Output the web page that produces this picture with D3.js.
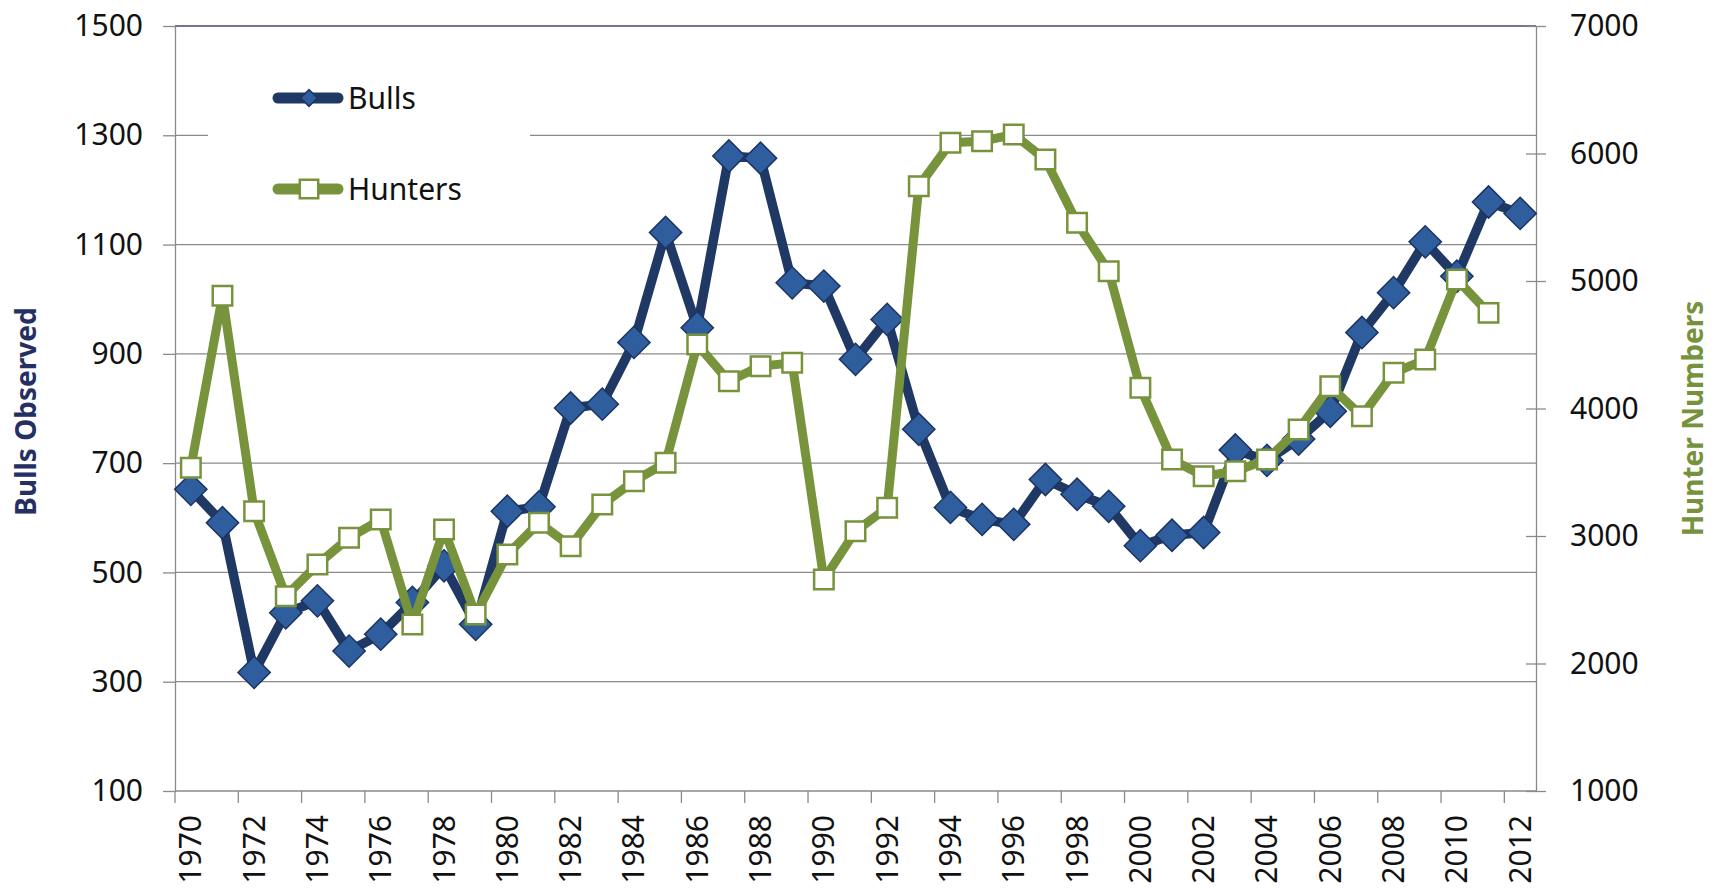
<!DOCTYPE html>
<html lang="en">
  <head>
    <meta charset="UTF-8" />
    <title>Bulls and Hunters</title>
    <style>

      body {
        margin: 0;
        background: #fff;
      }

      text {
        font-family: "Noto Sans", sans-serif;
      }

      .tick text {
        font-size: 30px;
        fill: #111;
      }

      .grid-line {
        stroke: #8a8a8a;
        stroke-width: 1.3px;
      }

      .bulls-line {
        fill: none;
        stroke: #1f3864;
        stroke-width: 9.5px;
        stroke-linejoin: round;
      }

      .hunters-line {
        fill: none;
        stroke: #77933c;
        stroke-width: 9px;
        stroke-linejoin: round;
      }

      .bulls-marker {
        fill: #2f5e9e;
        stroke: #1c3461;
        stroke-width: 1.5px;
      }

      .hunters-marker {
        fill: #fff;
        stroke: #77933c;
        stroke-width: 2.5px;
      }

    </style>
  </head>

  <body>

    <script src="https://cdnjs.cloudflare.com/ajax/libs/d3/7.8.5/d3.min.js"></script>
    <script>

      // Data...

      var years = d3.range(1970, 2013);

      var bulls = [
        652, 591, 317, 426, 448, 356, 387, 445, 512, 405,
        612, 620, 801, 808, 921, 1122, 948, 1262, 1258, 1030,
        1024, 890, 963, 762, 619, 597, 588, 670, 643, 621,
        549, 568, 573, 724, 705, 744, 795, 939, 1012, 1105,
        1042, 1178, 1157
      ];

      // No hunter count for 2012
      var hunters = [
        3535, 4885, 3194, 2528, 2776, 2986, 3129, 2306, 3051, 2384,
        2855, 3104, 2920, 3247, 3430, 3574, 4502, 4214, 4332, 4358,
        2659, 3038, 3221, 5743, 6084, 6097, 6149, 5953, 5456, 5077,
        4162, 3600, 3469, 3508, 3600, 3835, 4175, 3940, 4280, 4384,
        5012, 4750, null
      ];

      var leftTicks = [100, 300, 500, 700, 900, 1100, 1300, 1500];
      var rightTicks = [1000, 2000, 3000, 4000, 5000, 6000, 7000];

      var seriesNames = ["Bulls", "Hunters"];


      // SVG properties...

      var w = 1723,
          h = 890;

      var margin = {
        top: 26,
        right: 187,
        bottom: 99,
        left: 175
      };

      var svg = d3.select("body").append("svg")
        .attr("width", w)
        .attr("height", h);

      svg.append("rect")
        .attr("width", w)
        .attr("height", h)
        .attr("fill", "#fff");


      // Scales...

      var xScale = d3.scaleBand()
        .domain(years)
        .range([margin.left, w - margin.right])
        .padding(0);

      var yLeft = d3.scaleLinear()
        .domain([100, 1500])
        .range([h - margin.bottom, margin.top]);

      var yRight = d3.scaleLinear()
        .domain([1000, 7000])
        .range([h - margin.bottom, margin.top]);

      function cx(d, i) { return xScale(years[i]) + xScale.bandwidth() / 2; }


      // Gridlines (left axis values). The top one is darker.
      svg.append("g")
        .selectAll("line")
        .data(leftTicks)
        .enter()
        .append("line")
        .attr("class", "grid-line")
        .attr("x1", margin.left)
        .attr("x2", w - margin.right)
        .attr("y1", function(d) { return yLeft(d); })
        .attr("y2", function(d) { return yLeft(d); })
        .style("stroke", function(d) { return d === 1500 ? "#454570" : null; });


      // Axes...

      var leftAxis = d3.axisLeft(yLeft)
        .tickValues(leftTicks)
        .tickFormat(d3.format("d"))
        .tickSize(12)
        .tickSizeOuter(0)
        .tickPadding(20);

      var gLeft = svg.append("g")
        .attr("transform", "translate(" + margin.left + ",0)")
        .call(leftAxis);

      var rightAxis = d3.axisRight(yRight)
        .tickValues(rightTicks)
        .tickFormat(d3.format("d"))
        .tickSize(10)
        .tickSizeOuter(0)
        .tickPadding(24);

      var gRight = svg.append("g")
        .attr("transform", "translate(" + (w - margin.right) + ",0)")
        .call(rightAxis);

      // right ticks cross the axis line
      gRight.selectAll(".tick line").attr("x1", -10);

      // Category axis: labels every other year, ticks between bands
      var bottomAxis = d3.axisBottom(xScale)
        .tickValues(years.filter(function(d) { return d % 2 === 0; }))
        .tickSize(0)
        .tickSizeOuter(0);

      var gBottom = svg.append("g")
        .attr("transform", "translate(0," + (h - margin.bottom) + ")")
        .call(bottomAxis);

      gBottom.select(".domain").remove();

      gBottom.selectAll(".tick text")
        .attr("transform", "translate(0,24) rotate(-90)")
        .attr("x", 0)
        .attr("y", 0)
        .attr("dy", "0.35em")
        .attr("text-anchor", "end");

      gBottom.selectAll(".tick-mark")
        .data(years.filter(function(d) { return d % 2 === 0; }))
        .enter()
        .append("line")
        .attr("x1", function(d) { return xScale(d); })
        .attr("x2", function(d) { return xScale(d); })
        .attr("y1", 0)
        .attr("y2", 12);

      svg.selectAll(".domain, .tick line, g line:not(.grid-line)")
        .attr("stroke", "#8a8a8a")
        .attr("stroke-width", 1.3);


      // Axis titles
      svg.append("text")
        .attr("transform", "translate(25," + ((margin.top + h - margin.bottom) / 2 + 3) + ") rotate(-90)")
        .attr("text-anchor", "middle")
        .attr("dominant-baseline", "central")
        .style("font-size", "28px")
        .style("font-weight", "bold")
        .style("fill", "#262f63")
        .text("Bulls Observed");

      svg.append("text")
        .attr("transform", "translate(1692," + ((margin.top + h - margin.bottom) / 2 + 10) + ") rotate(-90)")
        .attr("text-anchor", "middle")
        .attr("dominant-baseline", "central")
        .style("font-size", "28px")
        .style("font-weight", "bold")
        .style("fill", "#76923c")
        .text("Hunter Numbers");


      // Lines and markers...

      var diamond = d3.symbol().type(d3.symbolSquare).size(520);
      var square = d3.symbol().type(d3.symbolSquare).size(380);

      var bullsLine = d3.line()
        .x(cx)
        .y(function(d) { return yLeft(d); });

      var huntersLine = d3.line()
        .defined(function(d) { return d !== null; })
        .x(cx)
        .y(function(d) { return yRight(d); });

      svg.append("path")
        .datum(bulls)
        .attr("class", "bulls-line")
        .attr("d", bullsLine);

      svg.append("g")
        .selectAll("path")
        .data(bulls)
        .enter()
        .append("path")
        .attr("class", "bulls-marker")
        .attr("d", diamond)
        .attr("transform", function(d, i) {
          return "translate(" + cx(d, i) + "," + yLeft(d) + ") rotate(45)";
        });

      svg.append("path")
        .datum(hunters)
        .attr("class", "hunters-line")
        .attr("d", huntersLine);

      svg.append("g")
        .selectAll("path")
        .data(hunters.map(function(d, i) { return { v: d, i: i }; })
                     .filter(function(d) { return d.v !== null; }))
        .enter()
        .append("path")
        .attr("class", "hunters-marker")
        .attr("d", square)
        .attr("transform", function(d) {
          return "translate(" + cx(null, d.i) + "," + yRight(d.v) + ")";
        });


      // Legend (white box hides the gridline behind it)...

      var legend = svg.append("g");

      legend.append("rect")
        .attr("x", 208)
        .attr("y", 55)
        .attr("width", 322)
        .attr("height", 170)
        .attr("fill", "#fff");

      var legendY = [98, 189];

      seriesNames.forEach(function(name, i) {
        var color = i === 0 ? "#1f3864" : "#77933c";

        legend.append("line")
          .attr("x1", 278)
          .attr("x2", 338)
          .attr("y1", legendY[i])
          .attr("y2", legendY[i])
          .attr("stroke", color)
          .attr("stroke-width", 11)
          .attr("stroke-linecap", "round");

        legend.append("path")
          .attr("class", i === 0 ? "bulls-marker" : "hunters-marker")
          .attr("d", d3.symbol().type(d3.symbolSquare).size(i === 0 ? 140 : 340))
          .attr("transform", "translate(309," + legendY[i] + ")" + (i === 0 ? " rotate(45)" : ""));

        legend.append("text")
          .attr("x", 348)
          .attr("y", legendY[i])
          .attr("dy", "0.35em")
          .style("font-size", "30px")
          .style("fill", "#111")
          .text(name);
      });

    </script>
  </body>
</html>
